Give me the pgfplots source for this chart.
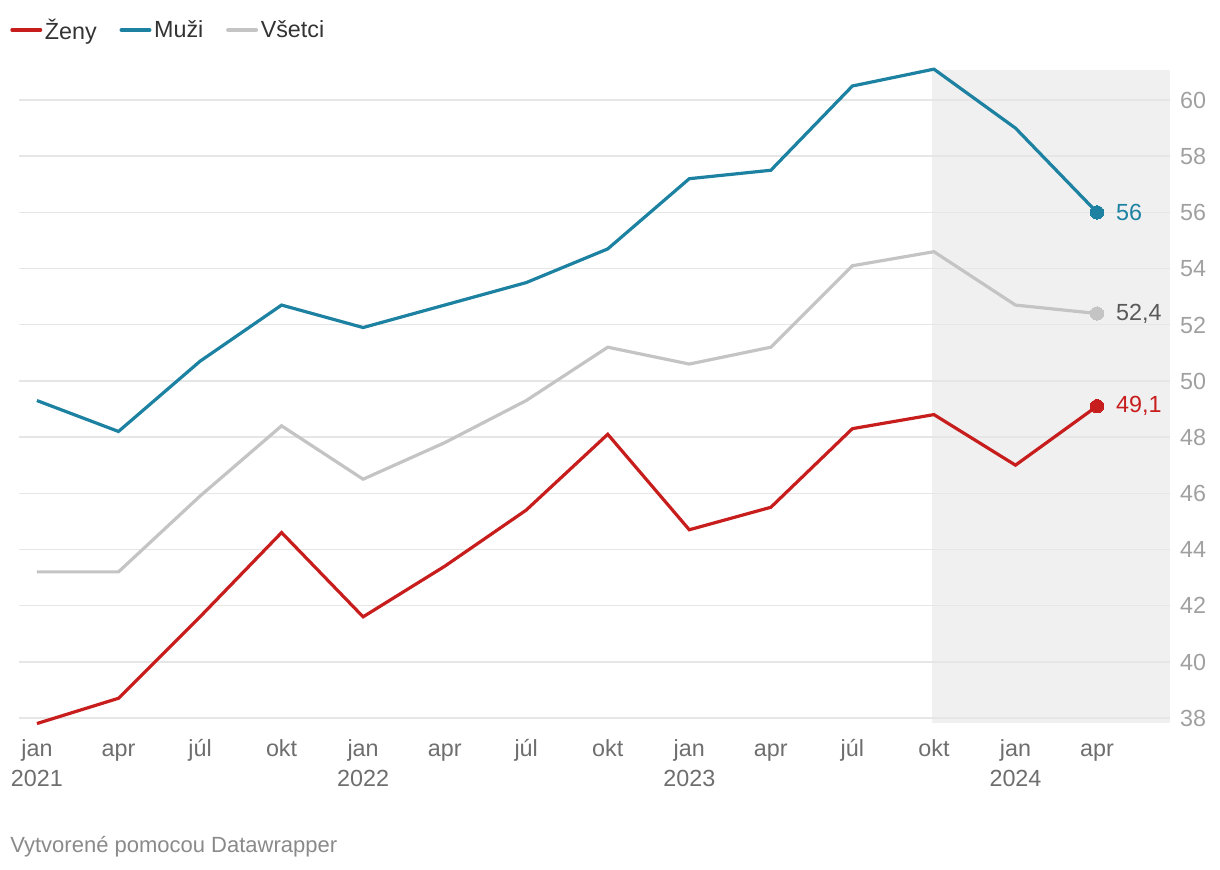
\documentclass[border=0pt]{standalone}
\usepackage{fontspec}
\setmainfont{Liberation Sans}
\usepackage{pgfplots}
\usepackage{pgfplotstable}
\pgfplotsset{compat=1.18}
\definecolor{zeny}{HTML}{C71E1D}
\definecolor{muzi}{HTML}{1D81A2}
\definecolor{vsetci}{HTML}{C4C4C4}
\definecolor{gridc}{HTML}{E6E6E6}
\definecolor{shadec}{HTML}{F0F0F0}
\definecolor{ticky}{HTML}{A0A0A0}
\definecolor{tickx}{HTML}{6E6E6E}
\definecolor{footc}{HTML}{8A8A8A}
\definecolor{legc}{HTML}{333333}

% quarterly values, jan 2021 = 0 ... apr 2024 = 13
\pgfplotstableread{
x  zeny  muzi  vsetci
0  37.8  49.3  43.2
1  38.7  48.2  43.2
2  41.6  50.7  45.9
3  44.6  52.7  48.4
4  41.6  51.9  46.5
5  43.4  52.7  47.8
6  45.4  53.5  49.3
7  48.1  54.7  51.2
8  44.7  57.2  50.6
9  45.5  57.5  51.2
10 48.3  60.5  54.1
11 48.8  61.1  54.6
12 47.0  59.0  52.7
13 49.1  56.0  52.4
}\quarters

\pgfplotsset{
  endlabel/.style={forget plot, only marks, mark=*, mark size=5pt,
    mark options={line width=0pt, fill=#1, draw=#1},
    point meta=y,
    nodes near coords={\pgfmathprintnumber[use comma, fixed, precision=1]{\pgfplotspointmeta}},
    nodes near coords align={anchor=west},
    every node near coord/.append style={xshift=11pt, font=\fontsize{17.5}{20}\selectfont}},
}

\begin{document}
\begin{tikzpicture}
\begin{axis}[
  set layers,
  at={(14.25pt,110.25pt)}, anchor=south west,
  scale only axis, width=863.25pt, height=489.75pt,
  xmin=-0.22, xmax=13.895, ymin=37.82, ymax=61.07,
  clip=false,
  axis line style={draw=none},
  major tick length=0pt,
  ymajorgrids, grid style={gridc, line width=1.1pt},
  ytick={38,40,...,60},
  yticklabel pos=right,
  yticklabel style={anchor=west, xshift=4pt, yshift=-2.3pt, text=ticky,
    font=\fontsize{17.5}{20}\selectfont},
  /pgf/number format/assume math mode=true,
  xtick={0,...,13},
  typeset ticklabels with strut,
  xticklabels={{jan\\2021},apr,júl,okt,{jan\\2022},apr,júl,okt,{jan\\2023},apr,júl,okt,{jan\\2024},apr},
  xticklabel style={align=center, text=tickx, yshift=-6pt,
    font=\fontsize{17.5}{22.5}\selectfont},
  legend style={at={(-0.0078,1.0613)}, anchor=west, draw=none, fill=none,
    inner sep=0pt, font=\fontsize{17.5}{20}\selectfont, text=legc,
    legend columns=3, /tikz/every even column/.style={column sep=15pt}},
  legend cell align=left,
  legend image code/.code={\draw[#1, line width=3pt, line cap=round] (0pt,0pt) -- (21pt,0pt);},
]
\begin{pgfonlayer}{axis background}
\fill[shadec] (axis cs:10.976,37.82) rectangle (axis cs:13.895,61.07);
\end{pgfonlayer}
\addplot[zeny, line width=2.4pt, no marks] table[x=x, y=zeny] {\quarters};
\addlegendentry{Ženy}
\addplot[muzi, line width=2.4pt, no marks] table[x=x, y=muzi] {\quarters};
\addlegendentry{Muži}
\addplot[vsetci, line width=2.4pt, no marks] table[x=x, y=vsetci] {\quarters};
\addlegendentry{Všetci}
\addplot[endlabel=zeny, every node near coord/.append style={text=zeny}] coordinates {(13,49.1)};
\addplot[endlabel=muzi, every node near coord/.append style={text=muzi}] coordinates {(13,56)};
\addplot[endlabel=vsetci, every node near coord/.append style={text=black!65}] coordinates {(13,52.4)};
\end{axis}
\node[anchor=west, text=footc, font=\fontsize{16.5}{19}\selectfont, inner sep=0pt] at (7.5pt,17.25pt) {Vytvorené pomocou Datawrapper};
\path (0,0) rectangle (915pt,652.5pt);
\end{tikzpicture}
\end{document}
